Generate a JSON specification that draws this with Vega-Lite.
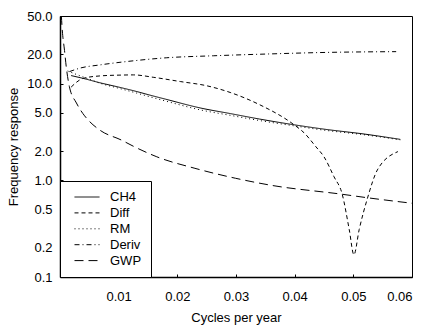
{
  "$schema": "https://vega.github.io/schema/vega-lite/v6.json",
  "width": 352,
  "height": 261,
  "autosize": "none",
  "padding": {"left": 60, "top": 16, "right": 14, "bottom": 50},
  "background": "white",
  "config": {
    "font": "Liberation Sans",
    "view": {"stroke": "black", "strokeWidth": 1},
    "axis": {
      "grid": false,
      "domainColor": "black",
      "domainWidth": 1.5,
      "tickColor": "black",
      "labelColor": "black",
      "titleColor": "black",
      "labelFontSize": 13,
      "titleFontSize": 13,
      "titleFontWeight": "normal"
    },
    "legend": {
      "orient": "bottom-left",
      "offset": 0,
      "strokeColor": "black",
      "fillColor": "white",
      "padding": 9,
      "symbolType": "M-2,0H2",
      "symbolSize": 156,
      "symbolOffset": 11,
      "symbolStrokeWidth": 1,
      "symbolStrokeColor": "black",
      "labelFontSize": 13,
      "labelColor": "black",
      "labelOffset": 16,
      "rowPadding": 1.9
    }
  },
  "data": {
    "values": [
      {"s": "CH4", "f": 0.0019, "v": 12.1},
      {"s": "CH4", "f": 0.004, "v": 11.3},
      {"s": "CH4", "f": 0.0068, "v": 10.2},
      {"s": "CH4", "f": 0.0100, "v": 9.2},
      {"s": "CH4", "f": 0.013, "v": 8.3},
      {"s": "CH4", "f": 0.0155, "v": 7.55},
      {"s": "CH4", "f": 0.018, "v": 6.9},
      {"s": "CH4", "f": 0.0239, "v": 5.6},
      {"s": "CH4", "f": 0.029, "v": 4.9},
      {"s": "CH4", "f": 0.034, "v": 4.3},
      {"s": "CH4", "f": 0.0399, "v": 3.75},
      {"s": "CH4", "f": 0.045, "v": 3.38},
      {"s": "CH4", "f": 0.052, "v": 3.0},
      {"s": "CH4", "f": 0.058, "v": 2.65},
      {"s": "Diff", "f": 0.0019, "v": 9.2},
      {"s": "Diff", "f": 0.0039, "v": 11.3},
      {"s": "Diff", "f": 0.0068, "v": 12.0},
      {"s": "Diff", "f": 0.0105, "v": 12.25},
      {"s": "Diff", "f": 0.0125, "v": 12.3},
      {"s": "Diff", "f": 0.016, "v": 11.6},
      {"s": "Diff", "f": 0.0205, "v": 10.5},
      {"s": "Diff", "f": 0.025, "v": 9.5},
      {"s": "Diff", "f": 0.029, "v": 8.1},
      {"s": "Diff", "f": 0.0339, "v": 6.1},
      {"s": "Diff", "f": 0.0399, "v": 3.75},
      {"s": "Diff", "f": 0.0416, "v": 3.1},
      {"s": "Diff", "f": 0.0436, "v": 2.23},
      {"s": "Diff", "f": 0.045, "v": 1.75},
      {"s": "Diff", "f": 0.0467, "v": 1.09},
      {"s": "Diff", "f": 0.0481, "v": 0.72},
      {"s": "Diff", "f": 0.0493, "v": 0.31},
      {"s": "Diff", "f": 0.0501, "v": 0.17},
      {"s": "Diff", "f": 0.051, "v": 0.31},
      {"s": "Diff", "f": 0.0524, "v": 0.65},
      {"s": "Diff", "f": 0.0541, "v": 1.28},
      {"s": "Diff", "f": 0.0576, "v": 1.98},
      {"s": "RM", "f": 0.0013, "v": 13.5},
      {"s": "RM", "f": 0.003, "v": 12.3},
      {"s": "RM", "f": 0.005, "v": 11.1},
      {"s": "RM", "f": 0.0068, "v": 10.1},
      {"s": "RM", "f": 0.0100, "v": 8.95},
      {"s": "RM", "f": 0.013, "v": 8.0},
      {"s": "RM", "f": 0.0155, "v": 7.25},
      {"s": "RM", "f": 0.018, "v": 6.6},
      {"s": "RM", "f": 0.0239, "v": 5.35},
      {"s": "RM", "f": 0.029, "v": 4.7},
      {"s": "RM", "f": 0.034, "v": 4.15},
      {"s": "RM", "f": 0.04, "v": 3.65},
      {"s": "RM", "f": 0.045, "v": 3.3},
      {"s": "RM", "f": 0.052, "v": 2.95},
      {"s": "RM", "f": 0.058, "v": 2.62},
      {"s": "Deriv", "f": 0.0016, "v": 13.3},
      {"s": "Deriv", "f": 0.0035, "v": 14.5},
      {"s": "Deriv", "f": 0.0068, "v": 15.6},
      {"s": "Deriv", "f": 0.0125, "v": 17.2},
      {"s": "Deriv", "f": 0.0182, "v": 18.5},
      {"s": "Deriv", "f": 0.0262, "v": 19.4},
      {"s": "Deriv", "f": 0.035, "v": 20.2},
      {"s": "Deriv", "f": 0.0453, "v": 21.0},
      {"s": "Deriv", "f": 0.0573, "v": 21.4},
      {"s": "GWP", "f": 0.0001, "v": 70},
      {"s": "GWP", "f": 0.0004, "v": 35},
      {"s": "GWP", "f": 0.00077, "v": 22},
      {"s": "GWP", "f": 0.00106, "v": 15},
      {"s": "GWP", "f": 0.0016, "v": 9.3},
      {"s": "GWP", "f": 0.0028, "v": 6.3},
      {"s": "GWP", "f": 0.0039, "v": 4.9},
      {"s": "GWP", "f": 0.0048, "v": 4.2},
      {"s": "GWP", "f": 0.0068, "v": 3.3},
      {"s": "GWP", "f": 0.0105, "v": 2.6},
      {"s": "GWP", "f": 0.0125, "v": 2.25},
      {"s": "GWP", "f": 0.0165, "v": 1.75},
      {"s": "GWP", "f": 0.023, "v": 1.33},
      {"s": "GWP", "f": 0.0299, "v": 1.05},
      {"s": "GWP", "f": 0.0359, "v": 0.89},
      {"s": "GWP", "f": 0.0481, "v": 0.717},
      {"s": "GWP", "f": 0.0524, "v": 0.66},
      {"s": "GWP", "f": 0.0601, "v": 0.578}
    ]
  },
  "mark": {"type": "line", "clip": true, "color": "black", "strokeWidth": 1, "interpolate": "monotone"},
  "encoding": {
    "x": {
      "field": "f", "type": "quantitative",
      "scale": {"domain": [0, 0.06], "nice": false, "zero": false},
      "axis": {"title": "Cycles per year", "values": [0.01, 0.02, 0.03, 0.04, 0.05, 0.06], "format": ".2f", "tickSize": -3, "labelPadding": 16, "titlePadding": 8}
    },
    "y": {
      "field": "v", "type": "quantitative",
      "scale": {"type": "log", "domain": [0.1, 50], "nice": false},
      "axis": {"title": "Frequency response", "values": [0.1, 0.2, 0.5, 1, 2, 5, 10, 20, 50], "format": ".1f", "tickSize": -3, "labelPadding": 11, "titlePadding": 6}
    },
    "strokeDash": {
      "field": "s", "type": "nominal",
      "scale": {
        "domain": ["CH4", "Diff", "RM", "Deriv", "GWP"],
        "range": [[1, 0], [4, 3], [1, 3], [5, 3, 1, 3], [9, 5]]
      },
      "legend": {"title": null}
    },
    "detail": {"field": "s"}
  }
}
